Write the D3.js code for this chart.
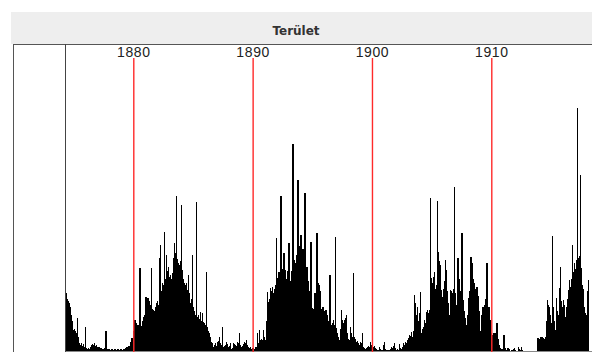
<!DOCTYPE html>
<html>
<head>
<meta charset="utf-8">
<script src="https://cdn.jsdelivr.net/npm/d3@7"></script>
<style>
  html, body { margin: 0; padding: 0; background: #fff; }
  svg { display: block; }
</style>
</head>
<body>
<div id="viz"></div>
<script>
(function () {
  'use strict';

  // chart title
  var title = 'Terület';

  // first month of the series (May 1874), one value per month
  var startYear = 1874;
  var startMonth = 4;

  // year lines drawn in red
  var yearTicks = [1880, 1890, 1900, 1910];

  // monthly sunspot area
  var area = [
    580, 520, 500, 480, 440, 360, 300, 210, 220, 200,
    180, 330, 140, 80, 60, 80, 50, 70, 40, 240,
    30, 20, 30, 20, 40, 60, 70, 60, 80, 50,
    60, 40, 30, 40, 20, 30, 20, 10, 20, 30,
    200, 20, 10, 20, 10, 10, 20, 10, 10, 20,
    10, 10, 20, 10, 10, 20, 10, 10, 20, 10,
    30, 40, 30, 50, 40, 90, 130, 120, 200, 310,
    280, 240, 260, 220, 830, 230, 250, 300, 340, 360,
    540, 400, 530, 500, 460, 440, 830, 420, 410, 400,
    440, 480, 500, 460, 930, 1060, 600, 680, 660, 1190,
    720, 960, 800, 840, 740, 760, 720, 780, 930, 1080,
    980, 1550, 920, 880, 860, 900, 1460, 810, 720, 680,
    660, 680, 610, 760, 580, 480, 520, 960, 440, 400,
    360, 1490, 340, 360, 320, 390, 300, 380, 290, 280,
    260, 790, 240, 200, 180, 140, 90, 80, 40, 60,
    80, 50, 90, 100, 140, 80, 60, 240, 40, 50,
    60, 90, 70, 40, 50, 80, 20, 30, 80, 70,
    60, 50, 90, 80, 180, 60, 40, 50, 70, 90,
    80, 110, 60, 40, 30, 40, 20, 30, 30, 20,
    40, 40, 180, 80, 210, 110, 120, 110, 210, 140,
    110, 300, 590, 490, 520, 630, 600, 640, 580, 620,
    660, 1130, 730, 700, 790, 760, 1550, 740, 820, 980,
    810, 720, 640, 800, 1080, 700, 680, 800, 2070, 910,
    840, 880, 960, 1710, 1000, 1050, 1160, 960, 1020, 1000,
    1580, 640, 840, 700, 480, 600, 1090, 430, 360, 420,
    580, 500, 1180, 680, 660, 600, 380, 420, 440, 400,
    330, 410, 360, 300, 280, 760, 310, 260, 280, 310,
    260, 1140, 230, 180, 140, 110, 220, 410, 310, 280,
    310, 330, 360, 180, 120, 110, 240, 180, 140, 780,
    140, 120, 90, 100, 80, 60, 90, 80, 180, 40,
    30, 20, 30, 40, 50, 40, 90, 60, 30, 40,
    50, 30, 20, 10, 10, 40, 20, 10, 10, 60,
    90, 20, 10, 10, 10, 10, 20, 40, 30, 50,
    80, 30, 10, 20, 10, 70, 30, 20, 40, 80,
    60, 90, 80, 110, 130, 160, 150, 190, 140, 200,
    560, 480, 360, 440, 300, 380, 590, 180, 220, 240,
    310, 280, 390, 410, 380, 410, 1530, 730, 680, 740,
    790, 620, 660, 1500, 990, 900, 860, 610, 540, 620,
    700, 910, 810, 600, 480, 360, 610, 600, 580, 620,
    1640, 580, 460, 340, 930, 720, 600, 550, 1180, 510,
    400, 330, 260, 230, 360, 530, 600, 940, 880, 720,
    680, 600, 620, 640, 550, 400, 130, 200, 360, 440,
    380, 460, 520, 880, 400, 440, 310, 180, 140, 160,
    180, 160, 180, 280, 120, 60, 30, 20, 10, 20,
    160, 30, 10, 10, 30, 20, 10, 0, 10, 10,
    20, 30, 10, 0, 0, 40, 20, 10, 40, 10,
    0, 0, 0, 0, 0, 0, 0, 0, 0, 0,
    0, 0, 0, 0, 130, 130, 120, 140, 140, 140,
    130, 120, 140, 300, 510, 460, 440, 360, 280, 1150,
    440, 300, 210, 530, 400, 360, 630, 840, 500, 440,
    510, 460, 340, 440, 520, 610, 710, 640, 720, 1060,
    790, 880, 820, 910, 2430, 930, 950, 1760, 830, 660,
    620, 440, 380, 360, 600, 710
  ];

  var width = 592, height = 352;
  var plotTop = 44, base = 351, lineTop = 58;

  var svg = d3.select('#viz')
    .append('svg')
    .attr('width', width)
    .attr('height', height);

  // title bar
  svg.append('rect')
    .attr('x', 11)
    .attr('y', 12)
    .attr('width', width - 11)
    .attr('height', 32)
    .attr('fill', '#eeeeee');

  svg.append('text')
    .attr('x', 296)
    .attr('y', 35)
    .attr('text-anchor', 'middle')
    .style('font-family', '"DejaVu Sans", Tahoma, sans-serif')
    .style('font-weight', 'bold')
    .style('font-size', '12px')
    .style('fill', '#333')
    .text(title);

  var x = d3.scaleLinear()
    .domain([1880, 1910])
    .range([133.3, 491.3]);

  var y = d3.scaleLinear()
    .domain([0, 3070])
    .range([base, plotTop]);

  var t0 = startYear + startMonth / 12;
  var monthW = x(t0 + 1 / 12) - x(t0);

  // frame
  svg.append('line')
    .attr('x1', 13).attr('x2', width)
    .attr('y1', plotTop + 0.5).attr('y2', plotTop + 0.5)
    .attr('stroke', '#555').attr('stroke-width', 1.2);
  svg.append('line')
    .attr('x1', 13.5).attr('x2', 13.5)
    .attr('y1', plotTop).attr('y2', height)
    .attr('stroke', '#555');

  // bars
  svg.append('g')
    .attr('shape-rendering', 'crispEdges')
    .selectAll('rect')
    .data(area)
    .enter()
    .append('rect')
    .attr('x', function (d, i) { return x(t0 + i / 12); })
    .attr('y', function (d) { return y(d); })
    .attr('width', monthW + 0.3)
    .attr('height', function (d) { return y(0) - y(d); })
    .attr('fill', '#000');

  // baseline
  svg.append('line')
    .attr('x1', x(t0)).attr('x2', width)
    .attr('y1', base + 0.5).attr('y2', base + 0.5)
    .attr('stroke', '#888');

  // left axis line at the first month
  svg.append('line')
    .attr('x1', Math.round(x(t0)) - 0.5).attr('x2', Math.round(x(t0)) - 0.5)
    .attr('y1', plotTop).attr('y2', height)
    .attr('stroke', '#444');

  // year lines with labels on top
  var axis = d3.axisTop(x)
    .tickValues(yearTicks)
    .tickFormat(d3.format('d'))
    .tickSize(-(height - lineTop))
    .tickPadding(1);

  var g = svg.append('g')
    .attr('transform', 'translate(0,' + lineTop + ')')
    .call(axis);

  g.select('.domain').remove();
  g.selectAll('.tick line')
    .attr('stroke', '#ff2a2a')
    .attr('stroke-width', 1.4);
  g.selectAll('.tick text')
    .style('font-family', '"Liberation Sans", Arial, sans-serif')
    .style('font-size', '14px')
    .style('letter-spacing', '0.6px')
    .style('fill', '#222');
})();
</script>
</body>
</html>
